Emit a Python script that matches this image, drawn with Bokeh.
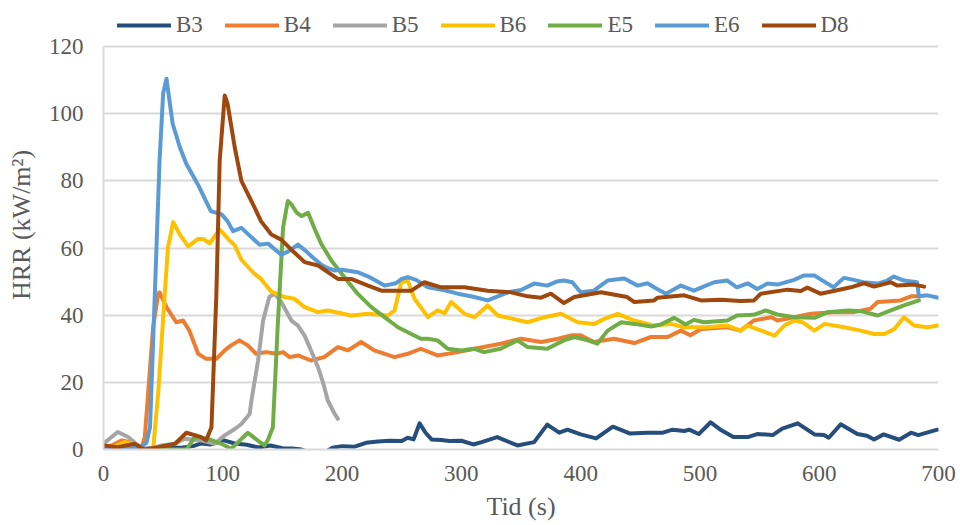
from bokeh.plotting import figure
from bokeh.models import Range1d, Legend, LegendItem, FixedTicker
from bokeh.embed import file_html
from bokeh.resources import INLINE

# Heat release rate curves, time in seconds and HRR in kW/m2
b3_t = [0, 8, 15, 25, 35, 45, 55, 65, 75, 82, 90, 101, 110, 120, 130, 140, 150, 158, 166, 172, 180, 187,
        192, 200, 210, 220, 230, 240, 250, 255, 260, 265, 270, 275, 283, 290, 300, 310, 317, 330, 347, 361,
        372, 382, 389, 400, 413, 427, 441, 456, 469, 477, 487, 491, 499, 509, 518, 528, 540, 548, 561, 569,
        582, 596, 604, 608, 618, 632, 640, 646, 654, 667, 677, 683, 699]
b3_v = [0.8, 0.5, 0.3, 0.6, 0.2, 0.4, 0.6, 0.5, 1.0, 1.8, 1.5, 2.7, 1.8, 1.4, 0.6, 1.2, 0.4, 0.3, 0.0, -0.8, -1.0, -0.5,
        0.5, 1.0, 0.8, 2.0, 2.4, 2.6, 2.5, 3.5, 3.0, 7.8, 5.0, 3.0, 2.8, 2.5, 2.6, 1.5, 2.2, 3.7, 1.2, 2.2,
        7.4, 5.0, 5.9, 4.5, 3.3, 6.8, 4.8, 5.0, 5.0, 5.9, 5.5, 5.9, 4.6, 8.1, 5.7, 3.7, 3.7, 4.6, 4.3, 6.2,
        7.8, 4.5, 4.3, 3.5, 7.5, 4.6, 4.1, 3.0, 4.5, 2.9, 5.0, 4.3, 5.9]

b4_t = [0, 7, 15, 23, 32, 34.6, 37.4, 41.6, 45.8, 47, 52.8, 61, 66.7, 72, 79.3, 86, 94.6, 101.6, 107, 114,
        121, 128, 136.5, 145, 150.5, 156, 163, 174, 185, 196.5, 205, 216, 227, 244, 255, 266, 280, 297,
        311, 333, 350, 367, 381, 392, 400, 411, 428, 445, 459, 473, 484, 492, 501, 523, 534, 545, 560,
        565, 579, 593, 612, 629, 643, 649, 668, 677, 684]
b4_v = [0.8, 1.2, 2.7, 2.2, 0.7, 3.7, 16.6, 36.4, 46.4, 46.8, 42.4, 37.9, 38.4, 35.4, 28.5, 27.0, 27.0, 29.5, 31.0,
        32.5, 31.0, 28.5, 29.0, 28.5, 29.0, 27.5, 28.0, 26.5, 27.5, 30.5, 29.5, 32.0, 29.5, 27.5, 28.5, 30.0,
        28.0, 29.0, 30.0, 31.5, 33.0, 32.0, 33.0, 34.0, 34.0, 32.0, 33.0, 31.7, 33.5, 33.5, 35.4, 34.0, 35.9,
        36.4, 35.4, 38.4, 39.4, 38.4, 39.4, 40.4, 40.9, 40.9, 41.9, 43.9, 44.4, 45.6, 45.6]

b5_t = [0, 6, 12, 20.6, 29, 37, 48.6, 59.7, 68, 82, 93, 101.6, 110, 115.6, 122.5, 124, 129.6, 133.8, 139,
        143.5, 149, 157.5, 163, 168.6, 174, 179.8, 184, 188, 193.8, 196.5]
b5_v = [1.7, 3.5, 5.2, 3.7, 1.2, 0.0, 1.2, 1.7, 3.2, 2.7, 1.7, 4.2, 6.1, 7.6, 10.6, 14.6, 26.5, 38.4, 45.4,
        46.4, 43.9, 38.4, 36.9, 33.9, 29.5, 24.5, 20.0, 14.6, 10.6, 9.1]

b6_t = [0, 10, 18, 25, 32, 38, 41.6, 45.8, 48.6, 51.3, 54, 58.4, 64, 71, 79.3, 83.4, 89, 97.4, 105.8, 110,
        115.6, 126.7, 132, 140.7, 151.8, 160, 168.6, 179.8, 188, 207.7, 221.7, 238.4, 244, 249.6, 255,
        260.7, 272, 280, 286, 291.5, 302.6, 311, 322, 330.5, 355.6, 369.6, 383.6, 397.5, 411.5, 419.8,
        431, 445, 461.6, 475.6, 486.8, 506, 523, 534, 540, 562.6, 570.8, 579, 586, 596, 604.5, 621, 635,
        646, 654.5, 663, 671, 679.5, 690.6, 700]
b6_v = [0.5, 1.0, 2.2, 1.8, 0.3, 0.0, 0.0, 16.6, 31.5, 46.0, 60.0, 67.7, 64.0, 60.5, 62.7, 62.7, 61.4, 65.5,
        62.2, 60.8, 56.5, 52.3, 50.8, 47.0, 45.4, 44.9, 42.4, 40.9, 41.4, 39.9, 40.4, 39.9, 41.4, 49.8, 50.3,
        44.9, 39.4, 41.4, 40.6, 43.9, 40.4, 39.4, 42.9, 39.9, 37.9, 39.4, 40.4, 37.9, 37.4, 38.9, 40.4, 38.4,
        36.9, 37.4, 36.4, 36.4, 36.9, 35.4, 36.9, 33.9, 36.9, 38.4, 37.9, 35.4, 37.4, 36.4, 35.4, 34.4,
        34.4, 35.9, 39.4, 36.9, 36.4, 36.9]

e5_t = [0, 20, 40, 60, 69.5, 76.5, 87.7, 98.8, 107, 121, 130, 135, 138, 142, 146, 150.5, 154.5, 157.5, 162,
        166, 171.5, 177, 182.6, 191, 202, 213, 224.5, 235.6, 246.8, 258, 266, 272, 280, 288.6, 299.8, 311,
        319, 333, 347, 355.6, 372, 386, 394.7, 406, 414, 422.6, 434, 445, 459, 467, 478.5, 488, 495,
        503.5, 523, 531, 545, 555, 565, 579, 596, 607, 624, 635, 649, 660, 671, 683.6]
e5_v = [0.0, 0.0, 0.0, 0.0, 0.0, 3.7, 3.2, 1.7, 0.2, 5.0, 2.5, 1.2, 3.0, 6.6, 36.4, 66.0, 74.0, 73.0, 70.5,
        69.5, 70.5, 65.7, 61.2, 56.3, 51.3, 46.4, 42.4, 39.4, 36.4, 34.4, 33.0, 33.0, 32.5, 30.0, 29.5, 30.0,
        29.0, 30.0, 32.5, 30.5, 30.0, 32.5, 33.5, 32.5, 31.5, 35.4, 37.9, 37.4, 36.6, 37.2, 39.2, 37.2, 38.6,
        37.9, 38.4, 39.9, 40.1, 41.4, 40.2, 39.4, 39.2, 40.9, 41.4, 41.2, 39.9, 41.4, 42.9, 44.4]

e6_t = [0, 15, 25, 32, 36, 39, 43, 47, 50, 52.8, 58, 64, 69.5, 79, 90, 99, 104, 108.6, 115.6, 130.7, 138,
        149, 155, 163, 170, 176, 182.6, 188, 194, 200, 213, 222, 235.6, 245, 250, 255, 262, 272, 285, 297,
        310, 322, 330, 339, 350, 361, 372, 380, 386, 393, 400, 411, 422.6, 436.6, 447.8, 456, 463, 471.5,
        484, 495, 503, 512, 523, 531, 540, 548, 556.6, 565, 579, 587, 596, 607, 612, 620.6, 629, 637, 649,
        657, 662.6, 671, 682, 683.6, 690.6, 700]
e6_v = [0.5, 0.3, 0.5, 1.0, 2.0, 6.6, 46.0, 86.0, 106.0, 110.4, 97.0, 90.0, 85.0, 79.0, 71.0, 70.0, 68.0, 65.0,
        66.0, 61.0, 61.3, 58.0, 59.0, 61.0, 59.0, 57.0, 55.0, 54.0, 53.3, 53.5, 52.8, 51.5, 48.8, 49.5, 50.8,
        51.3, 50.5, 48.3, 47.5, 46.4, 45.5, 44.4, 45.5, 46.8, 47.5, 49.4, 48.8, 50.0, 50.3, 49.8, 46.8, 47.3,
        50.3, 50.9, 48.8, 49.5, 48.0, 46.4, 48.8, 47.3, 48.5, 49.8, 50.3, 48.3, 49.5, 47.8, 49.4, 49.1, 50.5,
        51.8, 51.8, 49.4, 48.3, 51.1, 50.5, 49.8, 49.4, 50.3, 51.5, 50.3, 49.8, 45.6, 45.9, 45.2]

d8_t = [0, 12, 26, 34, 46, 60, 69.5, 82, 86, 90.5, 94.6, 97.4, 101.6, 104, 110, 115.6, 126.7, 132, 140.7, 149,
        157.5, 168.6, 179.8, 188, 196.5, 207.7, 221.7, 233, 249.6, 258, 269, 283, 302.6, 322, 341.7, 355.6,
        366.8, 375, 386, 394.7, 417, 439, 445, 461.6, 464.5, 486.8, 500.8, 517.6, 534, 545.4, 551, 573.5,
        584.6, 590, 601, 615, 626.5, 637.6, 646, 660, 665.5, 679.5, 688]
d8_v = [1.2, 0.7, 1.7, 0.0, 0.7, 1.7, 5.0, 3.7, 2.7, 6.6, 46.0, 86.0, 105.4, 103.0, 90.0, 80.0, 72.0, 68.0, 64.0,
        62.5, 59.5, 55.8, 54.8, 52.8, 50.8, 50.8, 48.8, 47.3, 47.3, 47.3, 49.8, 48.3, 48.3, 47.3, 46.8, 45.6,
        45.2, 46.4, 43.6, 45.4, 46.8, 45.4, 43.9, 44.4, 45.2, 45.9, 44.4, 44.6, 44.2, 44.4, 46.4, 47.6, 47.2,
        48.2, 46.4, 47.4, 48.3, 49.5, 48.5, 49.8, 48.8, 49.1, 48.5]

series_names = ["B3", "B4", "B5", "B6", "E5", "E6", "D8"]
series_colors = ["#254e7c", "#ed7d31", "#a5a5a5", "#ffc000", "#70ad47", "#5b9bd5", "#9e480e"]
series_data = [(b3_t, b3_v), (b4_t, b4_v), (b5_t, b5_v), (b6_t, b6_v),
               (e5_t, e5_v), (e6_t, e6_v), (d8_t, d8_v)]

x_ticks = [0, 100, 200, 300, 400, 500, 600, 700]
y_ticks = [0, 20, 40, 60, 80, 100, 120]
Y_MAX = 120

FONT = "Liberation Serif"
TEXT = "#595959"
GRID = "#d9d9d9"

# The frame reaches the top of the canvas so the legend row can sit inside it;
# the value axis is drawn only over 0..120, which spans pixels 449..46.
FRAME_BOTTOM = 449
AXIS_TOP = 46
y_top = Y_MAX * FRAME_BOTTOM / (FRAME_BOTTOM - AXIS_TOP)

p = figure(width=960, height=525, output_backend="svg", toolbar_location=None,
           x_range=Range1d(0, 700), y_range=Range1d(0, y_top),
           min_border_left=103, min_border_right=22, min_border_top=0, min_border_bottom=76)
p.outline_line_color = None
p.background_fill_color = "white"
p.border_fill_color = "white"

p.xaxis.ticker = FixedTicker(ticks=x_ticks)
p.yaxis.ticker = FixedTicker(ticks=y_ticks)
p.yaxis.bounds = (0, Y_MAX)
for ax in (p.xaxis[0], p.yaxis[0]):
    ax.major_tick_line_color = None
    ax.minor_tick_line_color = None
    ax.major_tick_out = 0
    ax.major_tick_in = 0
    ax.axis_line_color = GRID
    ax.axis_line_width = 2
    ax.major_label_text_font = FONT
    ax.major_label_text_font_size = "23px"
    ax.major_label_text_color = TEXT
    ax.axis_label_text_font = FONT
    ax.axis_label_text_font_size = "26px"
    ax.axis_label_text_font_style = "normal"
    ax.axis_label_text_color = TEXT

p.xaxis.axis_label = "Tid (s)"
p.yaxis.axis_label = "HRR (kW/m²)"
p.xaxis.major_label_standoff = 16
p.yaxis.major_label_standoff = 20
p.xaxis.axis_label_standoff = 8
p.yaxis.axis_label_standoff = 10

p.xgrid.grid_line_color = None
p.ygrid.grid_line_color = GRID
p.ygrid.grid_line_width = 2

items = []
for name, color, (t, v) in zip(series_names, series_colors, series_data):
    r = p.line(t, v, line_color=color, line_width=4, line_join="round", line_cap="round")
    items.append(LegendItem(label=name, renderers=[r]))

# legend row across the top of the chart
legend = Legend(items=items, orientation="horizontal", location=(14, FRAME_BOTTOM - 38),
                label_text_font=FONT, label_text_font_size="23px", label_text_color=TEXT,
                glyph_width=54, glyph_height=20, label_height=20, label_standoff=5,
                spacing=22, padding=0, margin=0, border_line_color=None,
                background_fill_alpha=0)
p.add_layout(legend, "center")

open("out.html", "w").write(file_html(p, INLINE))
